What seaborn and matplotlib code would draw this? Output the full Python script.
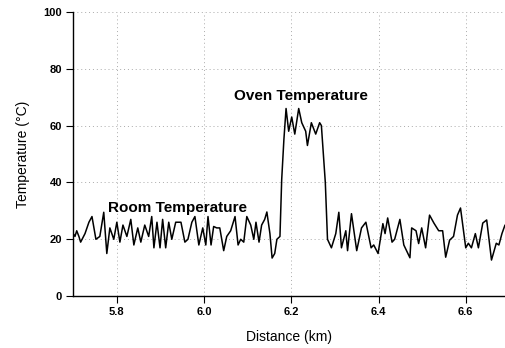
import numpy as np
import pandas as pd
import matplotlib
matplotlib.use("Agg")
import matplotlib.pyplot as plt
import seaborn as sns

# distance (km) and temperature (deg C)
distance_km = [
    5.700, 5.704, 5.708, 5.713, 5.717, 5.727, 5.736, 5.743, 5.752, 5.761,
    5.770, 5.777, 5.784, 5.793, 5.800, 5.807, 5.814, 5.823, 5.832, 5.839,
    5.848, 5.855, 5.864, 5.873, 5.880, 5.885, 5.892, 5.899, 5.905, 5.912,
    5.919, 5.926, 5.935, 5.947, 5.956, 5.963, 5.972, 5.979, 5.988, 5.997,
    6.004, 6.009, 6.016, 6.022, 6.029, 6.036, 6.045, 6.052, 6.061, 6.071,
    6.078, 6.084, 6.091, 6.098, 6.107, 6.114, 6.119, 6.126, 6.132, 6.139,
    6.144, 6.151, 6.156, 6.162, 6.167, 6.174, 6.178, 6.183, 6.188, 6.194,
    6.201, 6.208, 6.217, 6.224, 6.233, 6.237, 6.246, 6.256, 6.265, 6.269,
    6.278, 6.283, 6.292, 6.302, 6.309, 6.315, 6.325, 6.329, 6.338, 6.350,
    6.361, 6.371, 6.383, 6.389, 6.399, 6.410, 6.415, 6.421, 6.431, 6.437,
    6.449, 6.458, 6.472, 6.476, 6.486, 6.492, 6.499, 6.508, 6.517, 6.527,
    6.538, 6.547, 6.554, 6.563, 6.572, 6.581, 6.588, 6.600, 6.606, 6.613,
    6.622, 6.629, 6.639, 6.648, 6.659, 6.670, 6.676, 6.683, 6.690,
]
temperature_c = [
    22, 21, 23, 21, 19, 22, 26, 28, 20, 21,
    29.5, 15, 24, 20, 26, 19, 25, 21, 27, 18,
    24, 19, 25, 21, 28, 17, 26, 17, 27, 17,
    26, 20, 26, 26, 19, 20, 26, 28, 18, 24,
    18, 28, 18, 24.5, 24, 24, 16, 21, 23, 28,
    18, 20, 19, 28, 25, 20, 26, 19, 25, 27,
    29.6, 22, 13.4, 15, 20, 21, 41, 55, 66, 58,
    63, 57, 66, 61, 58, 53, 61, 57, 61, 60,
    40, 20, 17, 22, 29.5, 17, 23, 16, 29, 16,
    24, 26, 17, 18, 15, 25.5, 22, 27.5, 19, 20,
    27, 18, 13.5, 24, 23, 18.5, 24, 17, 28.5, 25.7,
    23, 23, 13.7, 19.7, 21, 28.5, 31, 17, 18.6, 17,
    22, 17, 25.7, 26.8, 12.7, 18.6, 18, 22, 25,
]

x_ticks = [5.8, 6.0, 6.2, 6.4, 6.6]
y_ticks = [0, 20, 40, 60, 80, 100]

df = pd.DataFrame({"Distance": distance_km, "Temperature": temperature_c})

sns.set_theme(style="white", rc={"text.color": "black",
                                 "axes.labelcolor": "black",
                                 "xtick.color": "black",
                                 "ytick.color": "black"})
plt.rcParams["font.family"] = ["Liberation Sans", "DejaVu Sans"]

fig = plt.figure(figsize=(5.05, 3.48), dpi=100)
ax = fig.add_axes([0.145, 0.149, 0.855, 0.817])

sns.lineplot(data=df, x="Distance", y="Temperature", ax=ax,
             color="black", linewidth=1.1, sort=False)

ax.set_xlim(5.7, 6.69)
ax.set_ylim(0, 100)
ax.set_xticks(x_ticks)
ax.set_yticks(y_ticks)
ax.set_xticklabels([f"{t:.1f}" for t in x_ticks], fontsize=8, fontweight="bold")
ax.set_yticklabels([str(t) for t in y_ticks], fontsize=8, fontweight="bold")
ax.tick_params(axis="both", direction="out", length=5, width=0.8,
               color="black", labelcolor="black", bottom=True, left=True, pad=3)

ax.grid(True, linestyle=(0, (1, 3)), color="#aaaaaa", linewidth=0.7)
ax.set_axisbelow(True)

for side in ["top", "right"]:
    ax.spines[side].set_visible(False)
for side in ["left", "bottom"]:
    ax.spines[side].set_color("black")
    ax.spines[side].set_linewidth(1.0)

ax.set_xlabel("Distance (km)", fontsize=10, labelpad=9, color="black")
ax.set_ylabel("Temperature (\u00b0C)", fontsize=10, labelpad=10, color="black")

ax.text(5.938, 31, "Room Temperature", fontsize=11, fontweight="bold",
        ha="center", va="center", color="black")
ax.text(6.222, 70.5, "Oven Temperature", fontsize=11, fontweight="bold",
        ha="center", va="center", color="black")

fig.savefig("out.png", dpi=100)
